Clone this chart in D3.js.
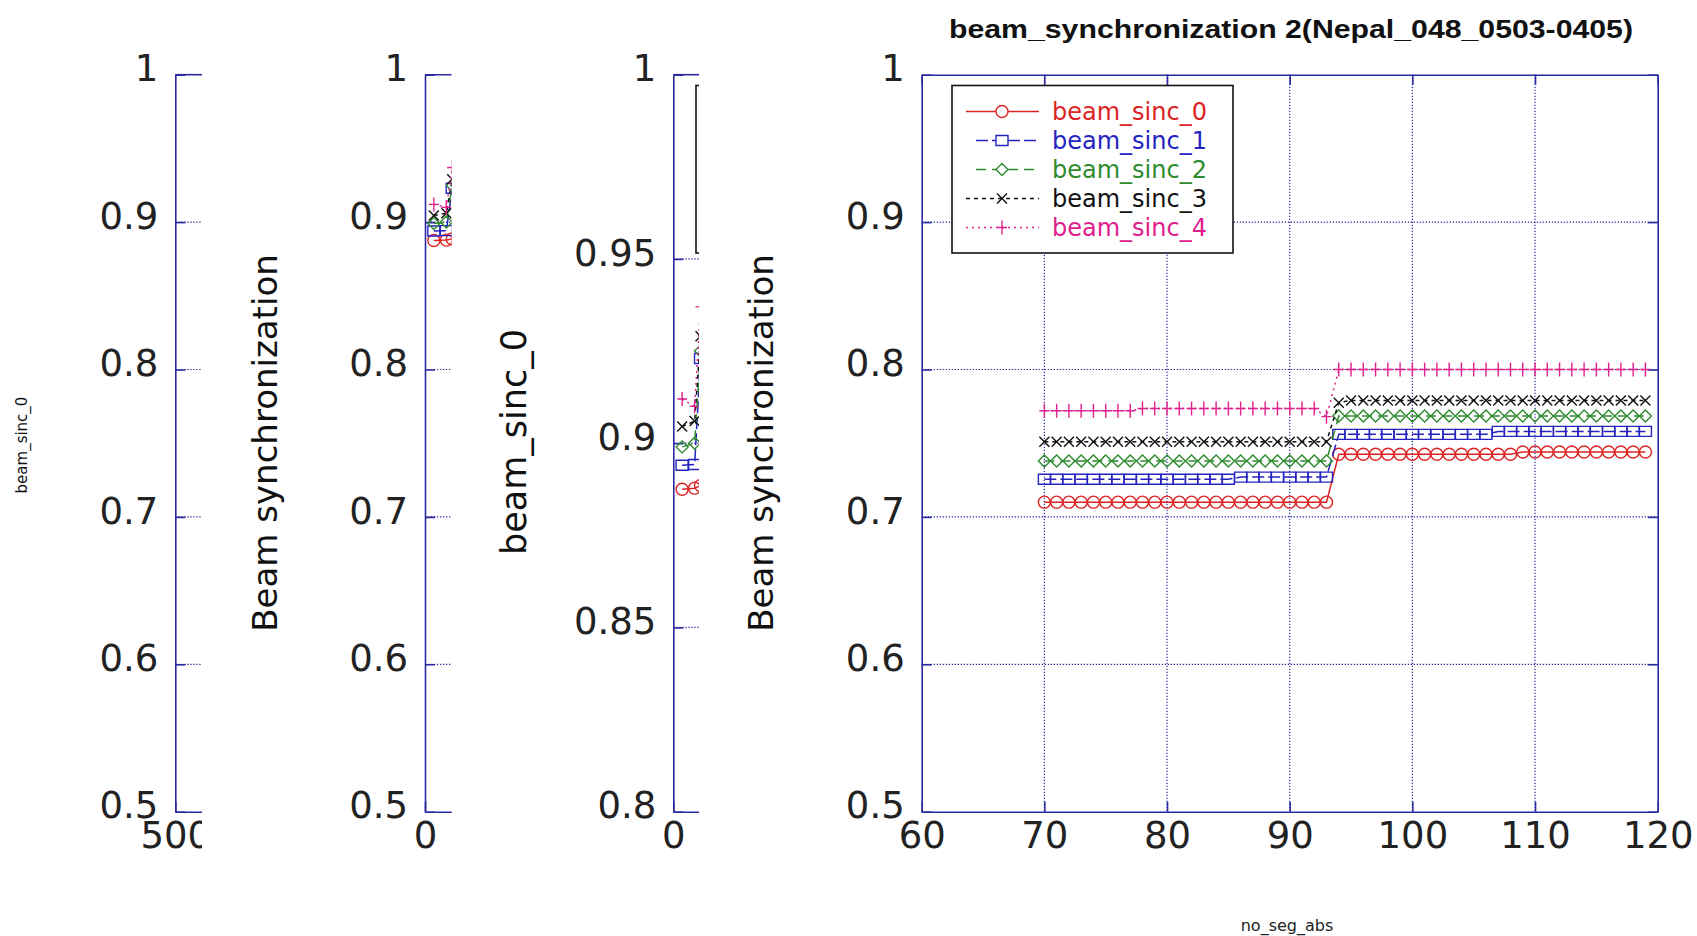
<!DOCTYPE html>
<html>
<head>
<meta charset="utf-8">
<script src="https://cdn.jsdelivr.net/npm/d3@7"></script>
<style>
  html, body { margin: 0; padding: 0; background: #fff; }
  svg { display: block; }
</style>
</head>
<body>
<svg id="chart" width="1697" height="936"></svg>
<script>
// ---------------- DATA ----------------
const seriesNames = ["beam_sinc_0", "beam_sinc_1", "beam_sinc_2", "beam_sinc_3", "beam_sinc_4"];

// main panel: no_seg_abs
const mainX = [70,71,72,73,74,75,76,77,78,79,80,81,82,83,84,85,86,87,88,89,90,91,92,93,
               94,95,96,97,98,99,100,101,102,103,104,105,106,107,108,109,110,111,112,113,114,115,116,117,118,119];
const sinc0 = [0.710,0.710,0.710,0.710,0.710,0.710,0.710,0.710,0.710,0.710,0.710,0.710,0.710,0.710,0.710,0.710,0.710,0.710,0.710,0.710,0.710,0.710,0.710,0.710,
               0.7425,0.7425,0.7425,0.7425,0.7425,0.7425,0.7425,0.7425,0.7425,0.7425,0.7425,0.7425,0.7425,0.7425,0.7425,0.744,0.744,0.744,0.744,0.744,0.744,0.744,0.744,0.744,0.744,0.744];
const sinc1 = [0.7255,0.7255,0.7255,0.7255,0.7255,0.7255,0.7255,0.7255,0.7255,0.7255,0.7255,0.7255,0.7255,0.7255,0.7255,0.7255,0.727,0.727,0.727,0.727,0.727,0.727,0.727,0.727,
               0.756,0.756,0.756,0.756,0.756,0.756,0.756,0.756,0.756,0.756,0.756,0.756,0.756,0.758,0.758,0.758,0.758,0.758,0.758,0.758,0.758,0.758,0.758,0.758,0.758,0.758];
const sinc2 = [0.738,0.738,0.738,0.738,0.738,0.738,0.738,0.738,0.738,0.738,0.738,0.738,0.738,0.738,0.738,0.738,0.738,0.738,0.738,0.738,0.738,0.738,0.738,0.738,
               0.7685,0.7685,0.7685,0.7685,0.7685,0.7685,0.7685,0.7685,0.7685,0.7685,0.7685,0.7685,0.7685,0.7685,0.7685,0.7685,0.7685,0.7685,0.7685,0.7685,0.7685,0.7685,0.7685,0.7685,0.7685,0.7685];
const sinc3 = [0.751,0.751,0.751,0.751,0.751,0.751,0.751,0.751,0.751,0.751,0.751,0.751,0.751,0.751,0.751,0.751,0.751,0.751,0.751,0.751,0.751,0.751,0.751,0.751,
               0.7775,0.779,0.779,0.779,0.779,0.779,0.779,0.779,0.779,0.779,0.779,0.779,0.779,0.779,0.779,0.779,0.779,0.779,0.779,0.779,0.779,0.779,0.779,0.779,0.779,0.779];
const sinc4 = [0.772,0.772,0.772,0.772,0.772,0.772,0.772,0.772,0.7735,0.7735,0.7735,0.7735,0.7735,0.7735,0.7735,0.7735,0.7735,0.7735,0.7735,0.7735,0.7735,0.7735,0.7735,0.768,
               0.800,0.800,0.800,0.800,0.800,0.800,0.800,0.800,0.800,0.800,0.800,0.800,0.800,0.800,0.800,0.800,0.800,0.800,0.800,0.800,0.800,0.800,0.800,0.800,0.800,0.800];

// second / third panels (mostly hidden): first segments
const earlyX = [6, 14.5, 18.5];
const early0 = [0.8875, 0.8878, 0.8885];
const early1 = [0.894, 0.8942, 0.923];
const early2 = [0.899, 0.900, 0.925];
const early3 = [0.9045, 0.906, 0.929];
const early4 = [0.912, 0.910, 0.937];

// axis ticks & labels
const mainXTicks = [60, 70, 80, 90, 100, 110, 120];
const mainXLabels = ["60", "70", "80", "90", "100", "110", "120"];
const yTicksWide = [0.5, 0.6, 0.7, 0.8, 0.9, 1];
const yLabelsWide = ["0.5", "0.6", "0.7", "0.8", "0.9", "1"];
const yTicksNarrow = [0.8, 0.85, 0.9, 0.95, 1];
const yLabelsNarrow = ["0.8", "0.85", "0.9", "0.95", "1"];
const p1XTicks = [500, 600, 700, 800, 900, 1000];
const p1XLabels = ["500", "600", "700", "800", "900", "1000"];
const p23XTicks = [0, 100, 200, 300, 400, 500];
const p23XLabels = ["0", "100", "200", "300", "400", "500"];

const titleText = "beam_synchronization 2(Nepal_048_0503-0405)";

// ---------------- STYLE ----------------
const colors = ["#dc2424", "#2424c0", "#2e8b2e", "#111111", "#e0208c"];
const dashes = [null, "12,4", "10,6", "4,4", "2,4"];
const markerPaths = [
  "M-6,0A6,6 0 1,0 6,0A6,6 0 1,0 -6,0Z",
  "M-6,-5H6V5H-6Z",
  "M0,-6L6,0L0,6L-6,0Z",
  "M-5,-5L5,5M-5,5L5,-5",
  "M-5,0H5M0,-7V7"
];
const AX = "#2a2aa0";
const FONT = "'DejaVu Sans', sans-serif";
const TOP = 74.7, BOTTOM = 811.7, PW = 736;

const svg = d3.select("#chart");
const defs = svg.append("defs");

function drawPanel(cfg, idx) {
  defs.append("clipPath").attr("id", "clip" + idx)
    .append("rect").attr("x", cfg.clip0).attr("y", 0)
    .attr("width", cfg.clip1 - cfg.clip0).attr("height", 936);
  const g = svg.append("g").attr("clip-path", `url(#clip${idx})`);
  g.append("rect").attr("x", cfg.clip0).attr("y", 0)
    .attr("width", cfg.clip1 - cfg.clip0).attr("height", 936).attr("fill", "#fff");

  const x = d3.scaleLinear().domain(cfg.xDomain).range([cfg.left, cfg.left + PW]);
  const y = d3.scaleLinear().domain(cfg.yDomain).range([BOTTOM, TOP]);

  // grid
  const grid = g.append("g").attr("stroke", AX).attr("stroke-width", 1.2).attr("stroke-dasharray", "1.3,1.7");
  cfg.yTicks.slice(1, -1).forEach(v => {
    grid.append("line").attr("x1", x.range()[0]).attr("x2", Math.min(x.range()[1], cfg.clip1))
      .attr("y1", y(v)).attr("y2", y(v));
  });
  cfg.xTicks.slice(1, -1).filter(v => x(v) < cfg.clip1).forEach(v => {
    grid.append("line").attr("y1", TOP).attr("y2", BOTTOM).attr("x1", x(v)).attr("x2", x(v));
  });

  // axes
  const yl = cfg.yLabels, xlb = cfg.xLabels;
  const visX = cfg.xTicks.filter(v => x(v) - 12 < cfg.clip1);
  const visXLabels = visX.map(v => xlb[cfg.xTicks.indexOf(v)]);
  const left = g.append("g").attr("transform", `translate(${cfg.left},0)`)
    .call(d3.axisLeft(y).tickValues(cfg.yTicks).tickSize(-10).tickSizeOuter(0).tickPadding(17)
      .tickFormat((d, i) => yl[i]));
  const axes = [left];
  if (cfg.left + PW <= cfg.clip1) {
    const right = g.append("g").attr("transform", `translate(${cfg.left + PW},0)`)
      .call(d3.axisRight(y).tickValues(cfg.yTicks).tickSize(-10).tickSizeOuter(0));
    right.selectAll(".tick text").remove();
    axes.push(right);
  } else {
    g.append("line").attr("x1", cfg.left).attr("x2", cfg.clip1).attr("y1", TOP).attr("y2", TOP)
      .attr("stroke", AX).attr("stroke-width", 1.6);
  }
  const bottom = g.append("g").attr("transform", `translate(0,${BOTTOM})`)
    .call(d3.axisBottom(x).tickValues(visX).tickSize(-10).tickSizeOuter(0).tickPadding(10)
      .tickFormat((d, i) => visXLabels[i]));
  axes.push(bottom);
  if (cfg.left + PW <= cfg.clip1) {
    const top = g.append("g").attr("transform", `translate(0,${TOP})`)
      .call(d3.axisTop(x).tickValues(cfg.xTicks).tickSize(-10).tickSizeOuter(0));
    top.selectAll(".tick text").remove();
    axes.push(top);
  }
  axes.forEach(a => {
    a.selectAll("path.domain").attr("stroke", AX).attr("stroke-width", 1.6);
    a.selectAll(".tick line").attr("stroke", AX).attr("stroke-width", 1.6);
    a.selectAll(".tick text").attr("fill", "#222").attr("font-family", FONT).attr("font-size", 37);
  });
  left.selectAll(".tick text").attr("dy", "0.17em");

  // data
  if (cfg.data) {
    const line = d3.line().x(d => x(d[0])).y(d => y(d[1]));
    cfg.data.forEach((vals, si) => {
      const pts = cfg.xs.map((xv, i) => [xv, vals[i]]);
      g.append("path").datum(pts).attr("d", line).attr("fill", "none")
        .attr("stroke", colors[si]).attr("stroke-width", 1.5)
        .attr("stroke-dasharray", dashes[si]);
      g.append("g").selectAll("path").data(pts).join("path")
        .attr("transform", d => `translate(${x(d[0])},${y(d[1])})`)
        .attr("d", markerPaths[si]).attr("fill", "none")
        .attr("stroke", colors[si]).attr("stroke-width", 1.4);
    });
  }

  // legend
  if (cfg.legendX != null) {
    const lg = g.append("g").attr("transform", `translate(${cfg.legendX},85.5)`);
    lg.append("rect").attr("width", 281).attr("height", 167.5).attr("fill", "#fff")
      .attr("stroke", "#111").attr("stroke-width", 1.6);
    if (cfg.legendTexts) {
      seriesNames.forEach((nm, si) => {
        const yy = 26 + si * 29;
        const dsh = [null, "8,4,0,0", "12,0", "4,3", "2,4"];
        lg.append("line").attr("x1", si === 1 || si === 2 ? 24 : 14).attr("x2", 87).attr("y1", yy).attr("y2", yy)
          .attr("stroke", colors[si]).attr("stroke-width", 1.5).attr("stroke-dasharray", dashes[si]);
        lg.append("path").attr("transform", `translate(50,${yy})`).attr("d", markerPaths[si])
          .attr("fill", si < 3 ? "#fff" : "none")
          .attr("stroke", colors[si]).attr("stroke-width", 1.4);
        lg.append("text").attr("x", 100).attr("y", yy).attr("dy", "0.35em")
          .attr("font-family", FONT).attr("font-size", 24).attr("fill", colors[si]).text(nm);
      });
    }
  }

  // y label
  if (cfg.yTitle) {
    g.append("text").attr("transform", `translate(${cfg.yTitleX},${cfg.yTitleY}) rotate(-90)`)
      .attr("text-anchor", "middle").attr("dy", "0.35em")
      .attr("font-family", FONT).attr("font-size", cfg.yTitleSize).attr("fill", "#111")
      .text(cfg.yTitle);
  }
  return g;
}

const earlyData = [early0, early1, early2, early3, early4];
const mainData = [sinc0, sinc1, sinc2, sinc3, sinc4];

drawPanel({clip0: 0, clip1: 202, left: 175.3, xDomain: [500, 1000], xTicks: p1XTicks, xLabels: p1XLabels,
  yDomain: [0.5, 1], yTicks: yTicksWide, yLabels: yLabelsWide,
  yTitle: "beam_sinc_0", yTitleX: 22, yTitleY: 445, yTitleSize: 15}, 1);

drawPanel({clip0: 202, clip1: 451.7, left: 425, xDomain: [0, 500], xTicks: p23XTicks, xLabels: p23XLabels,
  yDomain: [0.5, 1], yTicks: yTicksWide, yLabels: yLabelsWide, xs: earlyX, data: earlyData,
  yTitle: "Beam synchronization", yTitleX: 265, yTitleY: 443, yTitleSize: 34}, 2);

drawPanel({clip0: 451.7, clip1: 699, left: 673.3, xDomain: [0, 500], xTicks: p23XTicks, xLabels: p23XLabels,
  yDomain: [0.8, 1], yTicks: yTicksNarrow, yLabels: yLabelsNarrow, xs: earlyX, data: earlyData,
  legendX: 696, legendTexts: false,
  yTitle: "beam_sinc_0", yTitleX: 514, yTitleY: 442, yTitleSize: 35}, 3);

const g4 = drawPanel({clip0: 699, clip1: 1697, left: 921.7, xDomain: [60, 120], xTicks: mainXTicks, xLabels: mainXLabels,
  yDomain: [0.5, 1], yTicks: yTicksWide, yLabels: yLabelsWide, xs: mainX, data: mainData,
  legendX: 952, legendTexts: true,
  yTitle: "Beam synchronization", yTitleX: 761, yTitleY: 443, yTitleSize: 34}, 4);

g4.append("text").attr("x", 1291).attr("y", 38).attr("text-anchor", "middle")
  .attr("font-family", "'Liberation Sans', Arial, sans-serif").attr("font-weight", "bold")
  .attr("font-size", 26).attr("textLength", 684).attr("lengthAdjust", "spacingAndGlyphs")
  .attr("fill", "#111").text(titleText);

g4.append("text").attr("x", 1287).attr("y", 925).attr("text-anchor", "middle").attr("dy", "0.35em")
  .attr("font-family", FONT).attr("font-size", 16).attr("fill", "#222").text("no_seg_abs");
</script>
</body>
</html>
